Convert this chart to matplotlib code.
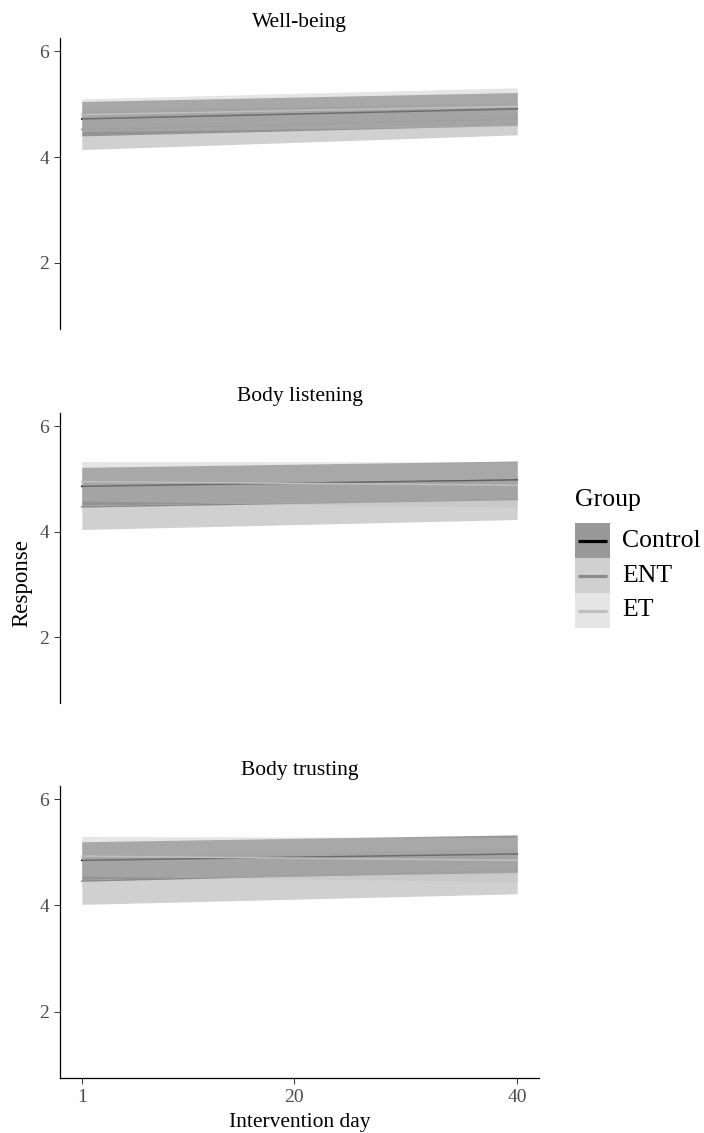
import matplotlib
matplotlib.use("Agg")
import matplotlib.pyplot as plt
from matplotlib.patches import Rectangle

plt.rcParams["font.family"] = ["Liberation Serif", "DejaVu Serif"]

# ---- data ----
days = [1, 40]
groups = ["Control", "ENT", "ET"]
panels = ["Well-being", "Body listening", "Body trusting"]

# fitted response at day 1 and day 40, with lower / upper band
wellbeing_fit = {"Control": [4.72, 4.91], "ENT": [4.52, 4.72], "ET": [4.80, 4.96]}
wellbeing_lo = {"Control": [4.40, 4.60], "ENT": [4.14, 4.42], "ET": [4.48, 4.58]}
wellbeing_hi = {"Control": [5.05, 5.22], "ENT": [4.90, 5.02], "ET": [5.10, 5.31]}

listening_fit = {"Control": [4.86, 4.98], "ENT": [4.47, 4.61], "ET": [4.95, 4.88]}
listening_lo = {"Control": [4.50, 4.62], "ENT": [4.04, 4.23], "ET": [4.58, 4.46]}
listening_hi = {"Control": [5.22, 5.34], "ENT": [4.90, 4.99], "ET": [5.33, 5.32]}

trusting_fit = {"Control": [4.85, 4.97], "ENT": [4.46, 4.66], "ET": [4.93, 4.85]}
trusting_lo = {"Control": [4.49, 4.62], "ENT": [4.02, 4.22], "ET": [4.55, 4.45]}
trusting_hi = {"Control": [5.20, 5.33], "ENT": [4.90, 5.08], "ET": [5.30, 5.28]}

panel_data = [
    (wellbeing_fit, wellbeing_lo, wellbeing_hi),
    (listening_fit, listening_lo, listening_hi),
    (trusting_fit, trusting_lo, trusting_hi),
]

y_ticks = [2, 4, 6]
x_ticks = [1, 20, 40]

# grey scale for the groups (fill and line share the colour)
group_color = {"Control": "#000000", "ENT": "#8B8B8B", "ET": "#BFBFBF"}
band_alpha = 0.4

W, H = 704, 1133
fig = plt.figure(figsize=(W / 100, H / 100), dpi=100)

ax_left, ax_right = 60, 539
panel_px = [(38, 329), (413, 703), (786, 1078)]

axes = []
for k, (top, bottom) in enumerate(panel_px):
    ax = fig.add_axes([ax_left / W, 1 - bottom / H,
                       (ax_right - ax_left) / W, (bottom - top) / H])
    fit, lo, hi = panel_data[k]
    for i, g in enumerate(groups):
        c = group_color[g]
        ax.fill_between(days, lo[g], hi[g], color=c, alpha=band_alpha,
                        linewidth=0, zorder=1 + i * 0.2)
        ax.plot(days, fit[g], color=c, lw=1.1, zorder=1.1 + i * 0.2)

    ax.set_xlim(-0.95, 41.95)
    ax.set_ylim(0.75, 6.25)
    ax.set_yticks(y_ticks)
    ax.set_yticklabels([str(t) for t in y_ticks])
    for s in ("top", "right"):
        ax.spines[s].set_visible(False)
    ax.spines["left"].set_linewidth(0.9)
    ax.tick_params(axis="y", length=4, width=0.7, color="#333333",
                   labelsize=14, labelcolor="#4D4D4D", pad=4)
    if k < 2:
        ax.spines["bottom"].set_visible(False)
        ax.set_xticks([])
    else:
        ax.spines["bottom"].set_linewidth(0.9)
        ax.set_xticks(x_ticks)
        ax.set_xticklabels([str(t) for t in x_ticks])
        ax.tick_params(axis="x", length=4, width=0.7, color="#333333",
                       labelsize=14, labelcolor="#4D4D4D", pad=4)
    ax.text(0.5, 1 + 16 / (bottom - top), panels[k], transform=ax.transAxes,
            ha="center", va="center", fontsize=15.5)
    axes.append(ax)

fig.text(22 / W, 1 - 583 / H, "Response", rotation=90, ha="center",
         va="center", fontsize=16.5)
fig.text(300 / W, 1 - 1122 / H, "Intervention day", ha="center",
         va="center", fontsize=15.5)

# ---- legend ----
key_x, key_w, key_h, key_top = 575, 35, 35, 523
lax = fig.add_axes([key_x / W, 1 - (key_top + 3 * key_h) / H,
                    key_w / W, 3 * key_h / H])
lax.set_xlim(0, 1)
lax.set_ylim(0, 3)
lax.axis("off")
for i, g in enumerate(groups):
    y0 = 2 - i
    lax.add_patch(Rectangle((0, y0), 1, 1, facecolor=group_color[g],
                            alpha=band_alpha, linewidth=0))
    lax.plot([0.08, 0.92], [y0 + 0.5, y0 + 0.5], color=group_color[g],
             lw=2.3, solid_capstyle="butt")
    fig.text(622 / W, 1 - (key_top + key_h * (i + 0.5)) / H, g,
             ha="left", va="center", fontsize=18.5)
fig.text(575 / W, 1 - 500 / H, "Group", ha="left", va="center", fontsize=18.5)

fig.savefig("out.png", dpi=100)
